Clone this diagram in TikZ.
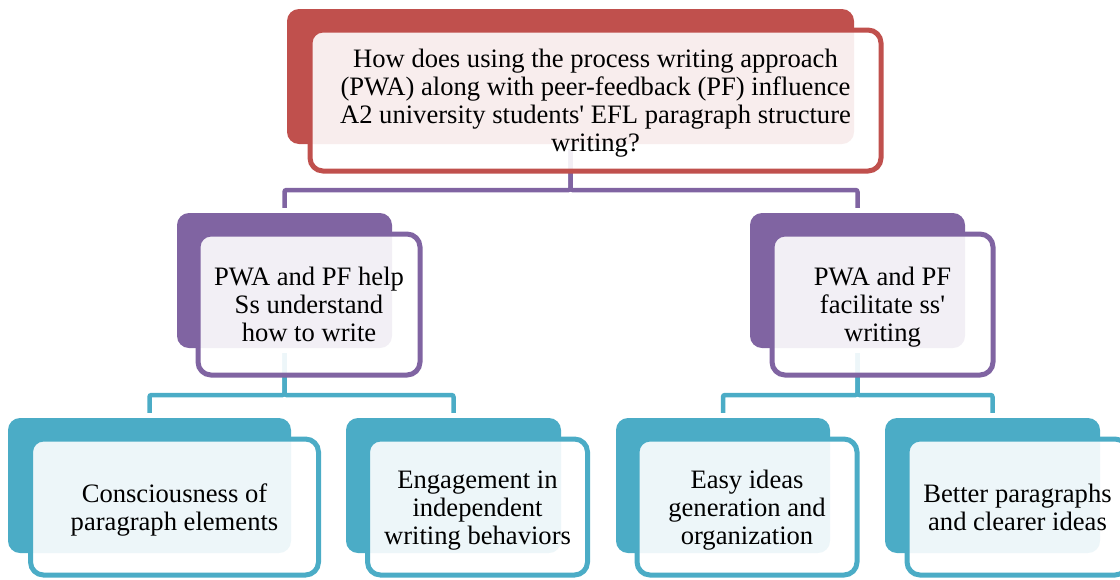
\documentclass[tikz,border=0pt]{standalone}
\usepackage{fontspec}
\setmainfont{Liberation Serif}
\definecolor{accRed}{HTML}{C0504D}
\definecolor{accPurple}{HTML}{8064A2}
\definecolor{accTeal}{HTML}{4BACC6}
% fixed height of the first line and depth of the last line of each label
\newcommand\hstrut{\rule{0pt}{24pt}}
\newcommand\dstrut{\rule[-6pt]{0pt}{6pt}}
\tikzset{
  backbox/.style={rectangle, rounded corners=12pt, inner sep=0pt, fill=#1},
  frontbox/.style={rectangle, rounded corners=13pt, inner sep=0pt, draw=#1,
    line width=5pt, fill=white, fill opacity=0.9, text opacity=1,
    align=center, font=\fontsize{26.6}{28}\selectfont},
  link/.style={draw=#1, line width=4.5pt, rounded corners=2pt,
    shorten <=5pt, shorten >=5pt},
}
\begin{document}
\begin{tikzpicture}[x=1pt,y=1pt]
\useasboundingbox (0,0) rectangle (1120,-579);

% coloured back plates
\node[backbox=accRed,    minimum width=567pt, minimum height=135pt] (qB)  at (570.5,-76.5) {};
\node[backbox=accPurple, minimum width=215pt, minimum height=135pt] (aB)  at (284.5,-280.5) {};
\node[backbox=accPurple, minimum width=215pt, minimum height=135pt] (bB)  at (857.5,-280.5) {};
\node[backbox=accTeal,   minimum width=283pt, minimum height=135pt] (a1B) at (149.5,-485.5) {};
\node[backbox=accTeal,   minimum width=215pt, minimum height=135pt] (a2B) at (453.5,-485.5) {};
\node[backbox=accTeal,   minimum width=214pt, minimum height=135pt] (b1B) at (723,-485.5) {};
\node[backbox=accTeal,   minimum width=215pt, minimum height=135pt] (b2B) at (992.5,-485.5) {};

% bus levels of the connectors
\coordinate (busTop) at (0,-190);
\coordinate (busLow) at (0,-395);

% connectors
\draw[link=accPurple] (qB.south) -- (qB.south |- busTop) -| (aB.north);
\draw[link=accPurple] (qB.south) -- (qB.south |- busTop) -| (bB.north);
\draw[link=accTeal] (aB.south) -- (aB.south |- busLow) -| (a1B.north);
\draw[link=accTeal] (aB.south) -- (aB.south |- busLow) -| (a2B.north);
\draw[link=accTeal] (bB.south) -- (bB.south |- busLow) -| (b1B.north);
\draw[link=accTeal] (bB.south) -- (bB.south |- busLow) -| (b2B.north);

% outlined text boxes
\node[frontbox=accRed, minimum width=571pt, minimum height=141pt] (q) at (595.5,-100.5)
  {\hstrut How does using the process writing approach\\(PWA) along with peer-feedback (PF) influence\\A2 university students\textquotesingle\ EFL paragraph structure\\writing?\dstrut};
\node[frontbox=accPurple, minimum width=222pt, minimum height=141pt] (a) at (309,-304.5)
  {\hstrut PWA and PF help\\Ss understand\\how to write\dstrut};
\node[frontbox=accPurple, minimum width=221pt, minimum height=141pt] (b) at (882.5,-304.5)
  {\hstrut PWA and PF\\facilitate ss\textquotesingle\\writing\dstrut};
\node[frontbox=accTeal, minimum width=288pt, minimum height=136pt] (a1) at (174.5,-507)
  {\hstrut Consciousness of\\paragraph elements\dstrut};
\node[frontbox=accTeal, minimum width=220pt, minimum height=136pt] (a2) at (477.5,-507)
  {\hstrut Engagement in\\independent\\writing behaviors\dstrut};
\node[frontbox=accTeal, minimum width=220pt, minimum height=136pt] (b1) at (747,-507)
  {\hstrut Easy ideas\\generation and\\organization\dstrut};
\node[frontbox=accTeal, minimum width=221pt, minimum height=136pt] (b2) at (1017.5,-507)
  {\hstrut Better paragraphs\\and clearer ideas\dstrut};
\end{tikzpicture}
\end{document}
